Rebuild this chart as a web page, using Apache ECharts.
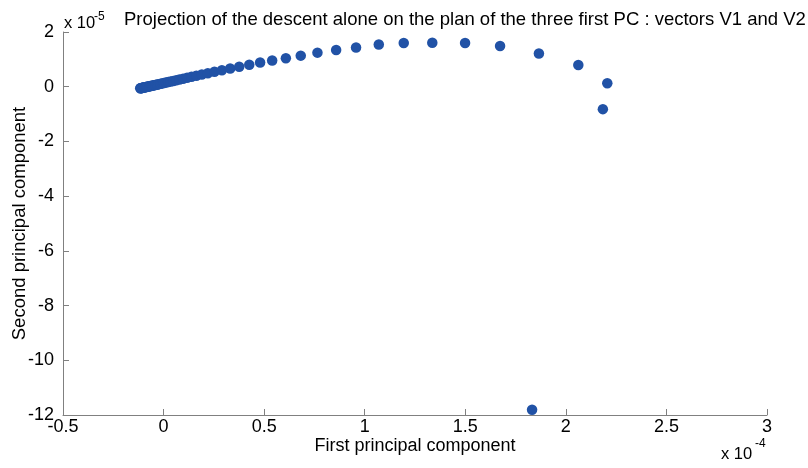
<!DOCTYPE html>
<html>
<head>
<meta charset="utf-8">
<script src="https://cdn.jsdelivr.net/npm/echarts@6/dist/echarts.min.js"></script>
<style>html,body{margin:0;padding:0;background:#fff;}#c{width:808px;height:468px;}</style>
</head>
<body>
<div id="c"></div>
<script>
// First principal component (units of 1e-4)
var pc1 = [-0.116,-0.114,-0.112,-0.110,-0.108,-0.106,-0.104,-0.101,-0.098,-0.095,-0.092,-0.089,-0.086,-0.083,-0.079,-0.075,-0.071,-0.067,-0.063,-0.058,-0.053,-0.048,-0.042,-0.036,-0.030,-0.023,-0.015,-0.007,0.002,0.012,0.023,0.035,0.048,0.063,0.079,0.097,0.117,0.139,0.163,0.190,0.220,0.253,0.290,0.331,0.376,0.426,0.480,0.540,0.608,0.682,0.765,0.858,0.957,1.070,1.194,1.336,1.499,1.673,1.866,2.062,2.206,2.184,1.832];
// Second principal component (units of 1e-5)
var pc2 = [-0.059,-0.056,-0.052,-0.049,-0.046,-0.042,-0.039,-0.034,-0.029,-0.024,-0.020,-0.015,-0.010,-0.005,0.002,0.008,0.015,0.022,0.028,0.036,0.044,0.052,0.062,0.072,0.082,0.094,0.107,0.121,0.136,0.152,0.170,0.190,0.212,0.236,0.263,0.292,0.325,0.362,0.401,0.446,0.494,0.549,0.604,0.667,0.729,0.802,0.886,0.960,1.040,1.136,1.245,1.344,1.436,1.540,1.600,1.610,1.600,1.490,1.216,0.795,0.125,-0.820,-11.81];
var xTicks = {min:-0.5, max:3, interval:0.5};
var yTicks = {min:-12, max:2, interval:2};
var titleText = 'Projection of the descent alone on the plan of the three first PC : vectors V1 and V2';
var xName = 'First principal component';
var yName = 'Second principal component';

var pts = pc1.map(function(x,i){return [x, pc2[i]];});
var font = 'Liberation Sans, Arial, sans-serif';
var chart = echarts.init(document.getElementById('c'), null, {renderer:'canvas'});
chart.setOption({
  animation:false,
  backgroundColor:'#fff',
  title:{text:titleText, left:119, top:5, textStyle:{fontFamily:font, fontSize:18.5, fontWeight:'normal', color:'#000'}},
  grid:{left:63, right:41, top:32, bottom:53, containLabel:false, outerBoundsMode:'none'},
  xAxis:{type:'value', min:xTicks.min, max:xTicks.max, interval:xTicks.interval,
    name:xName, nameLocation:'middle', nameGap:22, nameMoveOverlap:false,
    nameTextStyle:{fontFamily:font, fontSize:18, color:'#000'},
    axisLine:{onZero:false, lineStyle:{color:'#808080', width:1}},
    axisTick:{inside:true, length:6, lineStyle:{color:'#808080'}},
    splitLine:{show:false},
    axisLabel:{fontFamily:font, fontSize:18, color:'#000', margin:3, formatter:function(v){return String(+v.toFixed(2));}}
  },
  yAxis:{type:'value', min:yTicks.min, max:yTicks.max, interval:yTicks.interval,
    name:yName, nameLocation:'middle', nameGap:34, nameMoveOverlap:false,
    nameTextStyle:{fontFamily:font, fontSize:18.5, color:'#000'},
    axisLine:{onZero:false, lineStyle:{color:'#808080', width:1}},
    axisTick:{inside:true, length:6, lineStyle:{color:'#808080'}},
    splitLine:{show:false},
    axisLabel:{fontFamily:font, fontSize:18, color:'#000', margin:9}
  },
  series:[{type:'scatter', data:pts, symbol:'circle', symbolSize:10.5,
    itemStyle:{color:'#2152a6', opacity:1}}],
  graphic:[
    {type:'text', x:64, y:15, style:{text:'x 10', fontFamily:font, fontSize:16.5, fill:'#000'}},
    {type:'text', x:94, y:11, style:{text:'-5', fontFamily:font, fontSize:12, fill:'#000'}},
    {type:'text', x:721, y:446, style:{text:'x 10', fontFamily:font, fontSize:16.5, fill:'#000'}},
    {type:'text', x:755, y:438, style:{text:'-4', fontFamily:font, fontSize:12, fill:'#000'}}
  ]
});
</script>
</body>
</html>
